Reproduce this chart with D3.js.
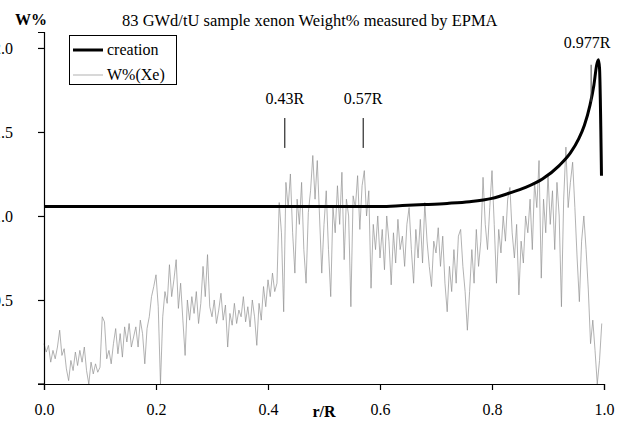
<!DOCTYPE html>
<html>
<head>
<meta charset="utf-8">
<script src="https://cdn.jsdelivr.net/npm/d3@7"></script>
<style>
  body { margin: 0; background: #fff; }
  svg text { font-family: "Liberation Serif", "Times New Roman", serif; fill: #000; }
</style>
</head>
<body>
<div id="chart"></div>
<script>
// measured Xe weight%, one value every 0.004 r/R starting at 0
var xeStep = 0.004;
var xeValues = [
  0.24, 0.19, 0.23, 0.13, 0.20, 0.15, 0.22, 0.32, 0.17, 0.21,
  0.09, 0.02, 0.14, 0.08, 0.19, 0.11, 0.20, 0.13, 0.22, 0.08,
  0.00, 0.13, 0.06, 0.12, 0.07, 0.10, 0.40, 0.37, 0.15, 0.20,
  0.12, 0.24, 0.33, 0.18, 0.30, 0.16, 0.34, 0.25, 0.36, 0.22,
  0.28, 0.34, 0.22, 0.38, 0.30, 0.12, 0.33, 0.40, 0.52, 0.58,
  0.65, 0.46, 0.00, 0.40, 0.55, 0.48, 0.71, 0.52, 0.62, 0.74,
  0.45, 0.60, 0.38, 0.17, 0.50, 0.38, 0.52, 0.42, 0.55, 0.36,
  0.48, 0.70, 0.52, 0.77, 0.46, 0.40, 0.50, 0.36, 0.44, 0.54,
  0.38, 0.47, 0.22, 0.42, 0.35, 0.48, 0.36, 0.44, 0.40, 0.52,
  0.37, 0.46, 0.34, 0.50, 0.40, 0.23, 0.48, 0.38, 0.58, 0.46,
  0.62, 0.52, 0.66, 0.55, 0.60, 1.08, 0.90, 0.43, 1.20, 1.05,
  1.25, 0.90, 0.66, 1.10, 0.95, 1.20, 0.80, 0.60, 1.02, 1.15,
  1.36, 1.10, 1.33, 1.00, 0.66, 0.95, 1.15, 0.80, 0.52, 1.05,
  0.90, 1.18, 0.95, 1.26, 0.74, 1.10, 1.00, 0.46, 1.12, 1.05,
  1.24, 0.92, 1.18, 1.27, 1.00, 1.15, 0.57, 0.95, 0.80, 1.00,
  0.75, 0.92, 0.68, 1.00, 0.85, 0.59, 0.90, 0.72, 0.98, 0.80,
  0.88, 0.70, 0.95, 1.05, 0.80, 0.60, 0.92, 0.75, 0.98, 0.72,
  1.08, 0.85, 0.70, 0.58, 0.85, 0.78, 0.93, 0.70, 0.88, 0.60,
  0.43, 0.70, 0.55, 0.80, 0.60, 0.88, 0.92, 0.70, 0.55, 0.32,
  0.55, 0.80, 0.60, 0.92, 0.70, 0.85, 1.23, 0.95, 0.80, 1.05,
  1.27, 0.95, 0.60, 0.92, 0.78, 1.00, 0.85, 1.10, 1.17, 0.90,
  0.75, 0.95, 0.53, 0.85, 0.72, 1.00, 0.90, 1.10, 0.80, 1.20,
  1.05, 1.33, 0.63, 1.10, 0.90, 1.25, 0.95, 1.15, 0.80, 1.20,
  1.00, 0.46, 1.10, 1.41, 1.05, 1.20, 1.32, 1.05, 0.75, 0.49,
  0.85, 1.00, 0.80, 0.56, 0.24, 0.38, 0.20, 0.00, 0.14, 0.36
];

// creation curve
var creationR = [0, 0.60, 0.64, 0.68, 0.72, 0.76, 0.80, 0.83, 0.86, 0.89,
                 0.92, 0.94, 0.955, 0.965, 0.975, 0.982, 0.987, 0.990, 0.992, 0.9955];
var creationW = [1.057, 1.057, 1.062, 1.068, 1.075, 1.085, 1.105, 1.135, 1.17, 1.22,
                 1.30, 1.375, 1.46, 1.54, 1.66, 1.78, 1.90, 1.93, 1.88, 1.24];

var xTicks = [0, 0.2, 0.4, 0.6, 0.8, 1.0];
var yTicks = [0.5, 1.0, 1.5, 2.0];
var markR = [0.43, 0.57, 0.977];
var markLabels = ["0.43R", "0.57R", "0.977R"];

var width = 626, height = 427;

var x = d3.scaleLinear().domain([0, 1]).range([44, 604]);
var y = d3.scaleLinear().domain([0, 2.095]).range([384, 32]);

var svg = d3.select("#chart").append("svg")
    .attr("width", width)
    .attr("height", height);

// data lines
var xeLine = d3.line()
    .x(function(d, i) { return x(i * xeStep); })
    .y(function(d) { return y(d); });

svg.append("path")
    .datum(xeValues)
    .attr("d", xeLine)
    .attr("fill", "none")
    .attr("stroke", "#909090")
    .attr("stroke-width", 0.7);

var creLine = d3.line()
    .curve(d3.curveMonotoneX)
    .x(function(d, i) { return x(creationR[i]); })
    .y(function(d) { return y(d); });

svg.append("path")
    .datum(creationW)
    .attr("d", creLine)
    .attr("fill", "none")
    .attr("stroke", "#000")
    .attr("stroke-width", 3);

// axes
svg.append("g")
    .attr("transform", "translate(0," + y(0) + ")")
    .call(d3.axisBottom(x).tickValues(xTicks).tickFormat(d3.format(".1f"))
          .tickSizeOuter(0).tickSize(6).tickPadding(14));

svg.append("g")
    .attr("transform", "translate(" + x(0) + ",0)")
    .call(d3.axisLeft(y).tickValues(yTicks).tickFormat(d3.format(".1f"))
          .tickSizeOuter(0).tickSize(6).tickPadding(25));

svg.selectAll(".domain, .tick line").attr("stroke", "#000").attr("stroke-width", 1.2);
svg.selectAll(".tick text")
    .attr("font-size", 16)
    .attr("fill", "#000");

// y axis has a tick at the bottom too
svg.append("line")
    .attr("x1", x(0) - 6).attr("x2", x(0))
    .attr("y1", y(0)).attr("y2", y(0))
    .attr("stroke", "#000").attr("stroke-width", 1.2);

svg.append("text")
    .attr("x", 324).attr("y", 417)
    .attr("text-anchor", "middle")
    .attr("font-size", 16).attr("font-weight", "bold")
    .text("r/R");

svg.append("text")
    .attr("x", 15).attr("y", 25)
    .attr("font-size", 16).attr("font-weight", "bold")
    .text("W%");

svg.append("text")
    .attr("x", 122).attr("y", 26)
    .attr("font-size", 16.5)
    .text("83 GWd/tU sample xenon Weight% measured by EPMA");

// position markers
var markTop = [1.583, 1.583, 1.90];
var markBot = [1.405, 1.405, 1.68];
var labelY = [104, 104, 48];

markR.forEach(function(r, i) {
    svg.append("line")
        .attr("x1", x(r)).attr("x2", x(r))
        .attr("y1", y(markTop[i])).attr("y2", y(markBot[i]))
        .attr("stroke", i == 2 ? "#444" : "#000").attr("stroke-width", 1);
    svg.append("text")
        .attr("x", x(r) - (i == 2 ? 4 : 0)).attr("y", labelY[i])
        .attr("text-anchor", "middle")
        .attr("font-size", 16)
        .text(markLabels[i]);
});

// legend
var legend = svg.append("g");
legend.append("rect")
    .attr("x", 69.5).attr("y", 35.5)
    .attr("width", 107).attr("height", 49)
    .attr("fill", "#fff").attr("stroke", "#000").attr("stroke-width", 1);
legend.append("line")
    .attr("x1", 73).attr("x2", 103).attr("y1", 50).attr("y2", 50)
    .attr("stroke", "#000").attr("stroke-width", 3);
legend.append("line")
    .attr("x1", 73).attr("x2", 103).attr("y1", 75).attr("y2", 75)
    .attr("stroke", "#909090").attr("stroke-width", 0.7);
legend.append("text").attr("x", 107).attr("y", 55).attr("font-size", 16).text("creation");
legend.append("text").attr("x", 107).attr("y", 80).attr("font-size", 16).text("W%(Xe)");
</script>
</body>
</html>
